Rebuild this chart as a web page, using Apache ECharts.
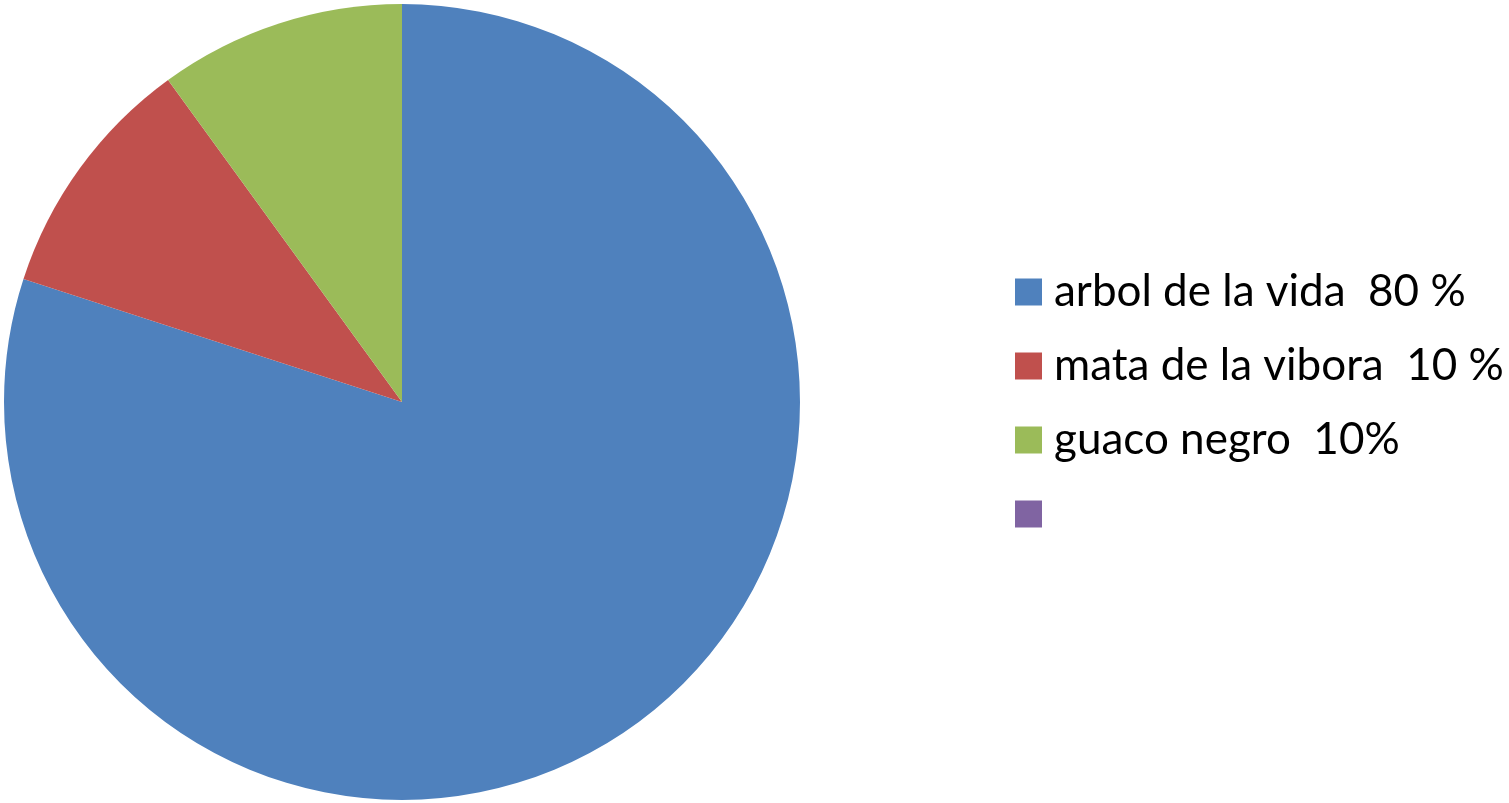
<!DOCTYPE html>
<html>
<head>
<meta charset="utf-8">
<script src="https://cdn.jsdelivr.net/npm/echarts@6/dist/echarts.min.js"></script>
<style>
html,body{margin:0;padding:0;background:#fff;}
#chart{width:1509px;height:803px;}
</style>
</head>
<body>
<div id="chart"></div>
<script>
const categories = ['arbol de la vida  80 %', 'mata de la vibora  10 %', 'guaco negro  10%', ' '];
const values = [80, 10, 10, 0];
const colors = ['#4F81BD', '#C0504D', '#9BBB59', '#8064A2'];

const chart = echarts.init(document.getElementById('chart'));
chart.setOption({
  animation: false,
  color: colors,
  legend: {
    orient: 'vertical',
    left: 1010,
    top: 265,
    itemWidth: 27,
    itemHeight: 27,
    itemGap: 30,
    icon: 'rect',
    selectedMode: false,
    data: categories,
    textStyle: {
      fontFamily: 'Lato',
      fontSize: 44,
      color: '#000',
      padding: [0, 0, 0, 7]
    }
  },
  series: [{
    type: 'pie',
    center: [402, 402],
    radius: 398,
    startAngle: 90,
    clockwise: true,
    label: { show: false },
    labelLine: { show: false },
    emphasis: { disabled: true },
    itemStyle: { borderWidth: 0 },
    data: categories.map((c, i) => ({ name: c, value: values[i] }))
  }]
});
</script>
</body>
</html>
